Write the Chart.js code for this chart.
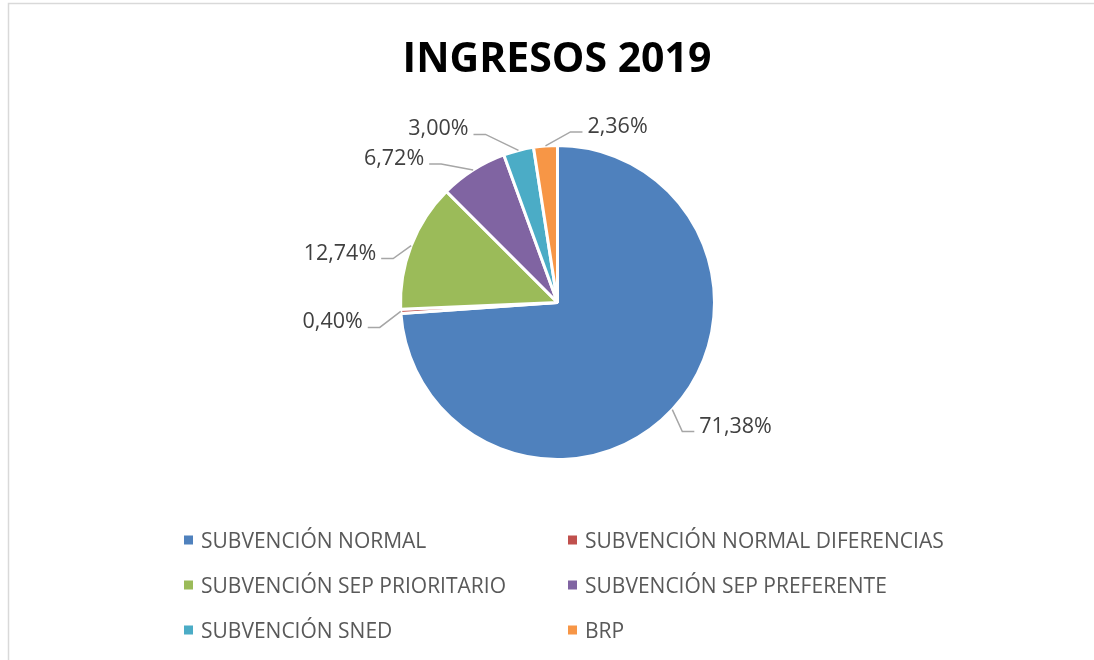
<!DOCTYPE html>
<html>
<head>
<meta charset="utf-8">
<title>INGRESOS 2019</title>
<script src="https://cdn.jsdelivr.net/npm/chart.js"></script>
<style>
    html, body { margin: 0; padding: 0; background: #ffffff; }
    #wrap { width: 1094px; height: 660px; position: relative; }
</style>
</head>
<body>
<div id="wrap"><canvas id="myChart" width="1094" height="660"></canvas></div>
<script>
// Data
const categories = [
    'SUBVENCIÓN NORMAL',
    'SUBVENCIÓN NORMAL DIFERENCIAS',
    'SUBVENCIÓN SEP PRIORITARIO',
    'SUBVENCIÓN SEP PREFERENTE',
    'SUBVENCIÓN SNED',
    'BRP'
];
const values = [71.38, 0.40, 12.74, 6.72, 3.00, 2.36];
const valueLabels = ['71,38%', '0,40%', '12,74%', '6,72%', '3,00%', '2,36%'];

// Styling
const colors = ['#4F81BD', '#C0504D', '#9BBB59', '#8064A2', '#4BACC6', '#F79646'];
// where each leader line bends, relative to the point on the slice edge
const labelBends = [[10, 22], [-21, 16], [-18, 13], [-32, -6], [-33, -16], [25, -14]];

const FONT = '"Open Sans", "Noto Sans", sans-serif';

document.addEventListener('DOMContentLoaded', function () {

    const decorPlugin = {
        id: 'decor',
        afterDraw: function (chart) {
            const ctx = chart.ctx;
            ctx.save();

            // frame of the chart area (only top and left visible)
            ctx.strokeStyle = '#D9D9D9';
            ctx.lineWidth = 1.5;
            ctx.beginPath();
            ctx.moveTo(8.5, 660);
            ctx.lineTo(8.5, 3.5);
            ctx.lineTo(1094, 3.5);
            ctx.stroke();

            // title
            ctx.fillStyle = '#000000';
            ctx.font = 'bold 41px ' + FONT;
            ctx.textAlign = 'center';
            ctx.textBaseline = 'alphabetic';
            ctx.fillText('INGRESOS 2019', 557, 72);

            // data labels with leader lines
            const arcs = chart.getDatasetMeta(0).data;
            ctx.font = '21.5px ' + FONT;
            arcs.forEach(function (arc, i) {
                const p = arc.getProps(['x', 'y', 'startAngle', 'endAngle', 'outerRadius'], true);
                const mid = (p.startAngle + p.endAngle) / 2;
                const ax = p.x + Math.cos(mid) * p.outerRadius;
                const ay = p.y + Math.sin(mid) * p.outerRadius;
                const bx = ax + labelBends[i][0];
                const by = ay + labelBends[i][1];
                const dir = labelBends[i][0] >= 0 ? 1 : -1;
                const ex = bx + dir * 12;

                ctx.strokeStyle = '#A6A6A6';
                ctx.lineWidth = 1.5;
                ctx.beginPath();
                ctx.moveTo(ax, ay);
                ctx.lineTo(bx, by);
                ctx.lineTo(ex, by);
                ctx.stroke();

                ctx.fillStyle = '#404040';
                ctx.textAlign = dir > 0 ? 'left' : 'right';
                ctx.fillText(valueLabels[i], ex + dir * 5, by + 1);
            });

            // legend, two columns
            ctx.font = '21px ' + FONT;
            ctx.textAlign = 'left';
            const colX = [184, 568];
            const rowY = [540, 585, 630];
            categories.forEach(function (name, i) {
                const x = colX[i % 2];
                const y = rowY[Math.floor(i / 2)];
                ctx.fillStyle = colors[i];
                ctx.fillRect(x, y - 4.5, 9, 9);
                ctx.fillStyle = '#595959';
                ctx.fillText(name, x + 17, y + 7.5);
            });

            ctx.restore();
        }
    };

    var ctx = document.getElementById('myChart').getContext('2d');
    var myChart = new Chart(ctx, {
        type: 'pie',
        data: {
            labels: categories,
            datasets: [{
                data: values,
                backgroundColor: colors,
                borderColor: '#ffffff',
                borderWidth: 3
            }]
        },
        options: {
            responsive: false,
            animation: false,
            layout: {
                padding: { top: 143, bottom: 198, left: 399, right: 378 }
            },
            plugins: {
                legend: { display: false },
                title: { display: false },
                tooltip: { enabled: false }
            }
        },
        plugins: [decorPlugin]
    });
});
</script>
</body>
</html>
